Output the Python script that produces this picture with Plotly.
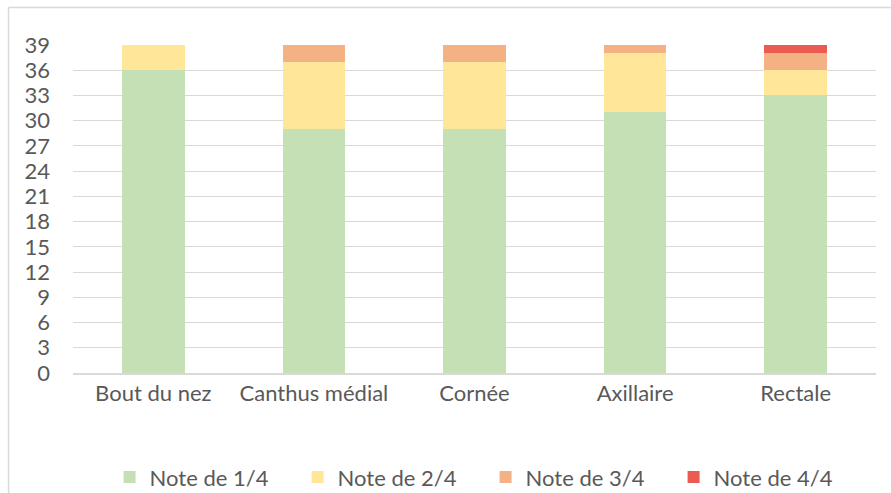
import plotly.graph_objects as go

categories = ["Bout du nez", "Canthus médial", "Cornée", "Axillaire", "Rectale"]
note1 = [36, 29, 29, 31, 33]
note2 = [3, 8, 8, 7, 3]
note3 = [0, 2, 2, 1, 2]
note4 = [0, 0, 0, 0, 1]
series_names = ["Note de 1/4", "Note de 2/4", "Note de 3/4", "Note de 4/4"]
colors = ["#C5E0B4", "#FFE699", "#F4B183", "#EB5B52"]
y_ticks = list(range(0, 40, 3))

fig = go.Figure()
for name, vals, col in zip(series_names, [note1, note2, note3, note4], colors):
    fig.add_trace(go.Bar(x=categories, y=vals, name=name,
                         marker=dict(color=col, line=dict(width=0))))

font_family = "Lato, Open Sans, sans-serif"
fs = 22
fig.update_layout(
    barmode="stack",
    bargap=0.61,
    width=891, height=493,
    margin=dict(l=73, r=15, t=45, b=120, autoexpand=False),
    paper_bgcolor="white", plot_bgcolor="white",
    font=dict(family=font_family, size=fs, color="#595959"),
    xaxis=dict(showgrid=False, showline=True, linecolor="#D9D9D9", linewidth=1.5,
               ticks="", tickfont=dict(size=fs, color="#595959"), automargin=False),
    yaxis=dict(range=[0, 39], tickvals=y_ticks, showgrid=True, gridcolor="#D9D9D9",
               gridwidth=1, zeroline=False, showline=False, ticks="",
               tickfont=dict(size=fs, color="#595959"), ticklabelstandoff=22,
               automargin=False),
    legend=dict(orientation="h", x=0.123, xanchor="left", xref="container",
                y=0.032, yanchor="middle", yref="container",
                font=dict(size=fs, color="#595959"), entrywidth=143, itemwidth=30,
                traceorder="normal"),
    showlegend=True,
    shapes=[
        dict(type="line", xref="paper", yref="paper", x0=-0.0803, x1=1.1, y0=1.114, y1=1.114,
             line=dict(color="#D9D9D9", width=1.5)),
        dict(type="line", xref="paper", yref="paper", x0=-0.0803, x1=-0.0803, y0=1.114, y1=-0.4,
             line=dict(color="#D9D9D9", width=1.5)),
    ],
)

fig.write_html("out.html", config={"displayModeBar": False},
               post_script="document.body.style.margin='0';")
